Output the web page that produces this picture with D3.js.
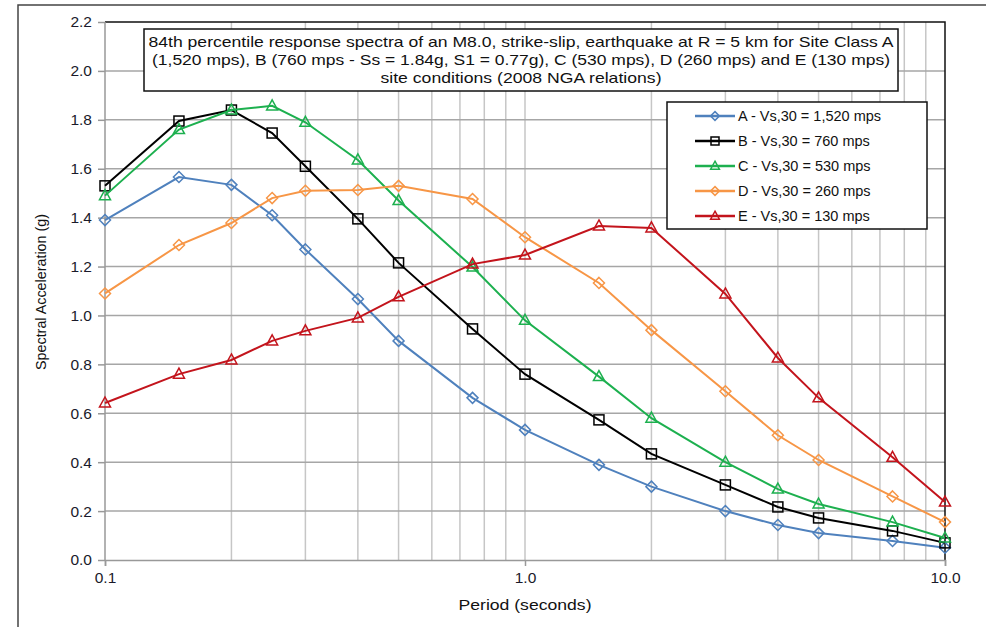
<!DOCTYPE html>
<html><head><meta charset="utf-8">
<script src="https://cdn.jsdelivr.net/npm/d3@7"></script>
<style>body{margin:0;background:#fff}svg{display:block}text{font-family:"Liberation Sans",Arial,sans-serif}</style>
</head><body>
<svg id="c" width="986" height="627"></svg>
<script>
const periods = [0.1,0.15,0.2,0.25,0.3,0.4,0.5,0.75,1.0,1.5,2,3,4,5,7.5,10];
const seriesA = [1.39,1.566,1.534,1.41,1.27,1.067,0.896,0.663,0.532,0.389,0.30,0.20,0.143,0.11,0.078,0.05];
const seriesB = [1.53,1.795,1.84,1.746,1.61,1.395,1.215,0.945,0.76,0.573,0.434,0.307,0.217,0.172,0.119,0.07];
const seriesC = [1.49,1.76,1.84,1.857,1.79,1.636,1.47,1.198,0.98,0.75,0.58,0.40,0.29,0.229,0.155,0.09];
const seriesD = [1.09,1.288,1.378,1.48,1.51,1.513,1.53,1.476,1.32,1.133,0.94,0.69,0.51,0.409,0.26,0.155];
const seriesE = [0.642,0.76,0.818,0.896,0.937,0.99,1.076,1.21,1.247,1.366,1.358,1.088,0.826,0.663,0.42,0.237];
const seriesNames = ["A - Vs,30 = 1,520 mps","B - Vs,30 = 760 mps","C - Vs,30 = 530 mps","D - Vs,30 = 260 mps","E - Vs,30 = 130 mps"];
const yTicks = [0,0.2,0.4,0.6,0.8,1.0,1.2,1.4,1.6,1.8,2.0,2.2];
const xTickLabels = [0.1,1,10];
const titleLines = ["84th percentile response spectra of an M8.0, strike-slip, earthquake at R = 5 km for Site Class A",
 "(1,520 mps), B (760 mps - Ss = 1.84g, S1 = 0.77g), C (530 mps), D (260 mps) and E (130 mps)",
 "site conditions (2008 NGA relations)"];
const xTitle = "Period (seconds)";
const yTitle = "Spectral Acceleration (g)";

const colors = ["#4f81bd","#000000","#1db04f","#f79646","#c3141c"];
const shapes = ["diamond","square","triangle","diamond","triangle"];
const allSeries = [seriesA,seriesB,seriesC,seriesD,seriesE];

const svg = d3.select("#c");
const L=105,R=945,T=22,B=560;
const x = d3.scaleLog().domain([0.1,10]).range([L,R]);
const y = d3.scaleLinear().domain([0,2.2]).range([B,T]);

// outer frame
svg.append("rect").attr("x",18).attr("y",5).attr("width",1000).attr("height",700)
  .attr("fill","none").attr("stroke","#444").attr("stroke-width",1.5);

// vertical grid (minor log)
const vgrid=[];
for(let d=1;d<10;d++){vgrid.push(d*0.1);vgrid.push(d);}
svg.append("g").selectAll("line").data(vgrid.filter(v=>v>0.1&&v<10)).join("line")
  .attr("x1",d=>x(d)).attr("x2",d=>x(d)).attr("y1",T).attr("y2",B)
  .attr("stroke","#c6c6c6").attr("stroke-width",1.5);
// horizontal grid
svg.append("g").selectAll("line").data(yTicks.filter(v=>v>0&&v<2.2)).join("line")
  .attr("x1",L).attr("x2",R).attr("y1",d=>y(d)).attr("y2",d=>y(d))
  .attr("stroke","#a6a6a6").attr("stroke-width",1.5);

// plot border top/right
svg.append("path").attr("d",`M${L},${y(2.2)}H${R}V${B}`).attr("fill","none").attr("stroke","#111").attr("stroke-width",1.5);

// axes
const yAxis = d3.axisLeft(y).tickValues(yTicks).tickFormat(d3.format(".1f")).tickSize(7).tickPadding(6);
const gy = svg.append("g").attr("transform",`translate(${L},0)`).call(yAxis);
const xAxis = d3.axisBottom(x).tickValues(xTickLabels).tickFormat(d3.format(".1f")).tickSize(6).tickPadding(6);
const gx = svg.append("g").attr("transform",`translate(0,${B})`).call(xAxis);
[gy,gx].forEach(g=>{
  g.select(".domain").attr("stroke","#999").attr("stroke-width",1.5);
  g.selectAll(".tick line").attr("stroke","#999").attr("stroke-width",1.5);
  g.selectAll(".tick text").attr("fill","#1a1a2a").attr("font-size",15.5).attr("font-family","Liberation Sans, Arial, sans-serif");
});
gy.select(".domain").attr("d",`M0,${B}V${T}`);

// axis titles
svg.append("text").attr("x",x(1)).attr("y",610).attr("text-anchor","middle")
  .attr("font-size",15).attr("fill","#111").attr("textLength",133).attr("lengthAdjust","spacingAndGlyphs").text(xTitle);
svg.append("text").attr("transform","translate(46,292) rotate(-90)").attr("text-anchor","middle")
  .attr("font-size",14).attr("fill","#111").attr("textLength",156).attr("lengthAdjust","spacingAndGlyphs").text(yTitle);

// markers
function marker(g,shape,color,cx,cy,s){
  s = s||1;
  if(shape==="diamond"){
    g.append("path").attr("d",`M${cx},${cy-5.5*s}L${cx+5.5*s},${cy}L${cx},${cy+5.5*s}L${cx-5.5*s},${cy}Z`)
      .attr("fill","none").attr("stroke",color).attr("stroke-width",1.5);
  } else if(shape==="square"){
    g.append("rect").attr("x",cx-5*s).attr("y",cy-5*s).attr("width",10*s).attr("height",10*s)
      .attr("fill","none").attr("stroke",color).attr("stroke-width",1.5);
  } else {
    g.append("path").attr("d",`M${cx},${cy-6*s}L${cx+5.5*s},${cy+4*s}L${cx-5.5*s},${cy+4*s}Z`)
      .attr("fill","none").attr("stroke",color).attr("stroke-width",1.5);
  }
}

const line = d3.line().x((d,i)=>x(periods[i])).y(d=>y(d));
allSeries.forEach((s,k)=>{
  const g = svg.append("g");
  g.append("path").attr("d",line(s)).attr("fill","none").attr("stroke",colors[k]).attr("stroke-width",2);
  s.forEach((v,i)=>marker(g,shapes[k],colors[k],x(periods[i]),y(v)));
});

// title box
svg.append("rect").attr("x",144).attr("y",29).attr("width",754).attr("height",62)
  .attr("fill","#fff").attr("stroke","#111").attr("stroke-width",1.5);
const tl=[745,738,281];
titleLines.forEach((t,i)=>{
  svg.append("text").attr("x",521).attr("y",47+i*18).attr("text-anchor","middle")
    .attr("font-size",15).attr("fill","#111").attr("textLength",tl[i]).attr("lengthAdjust","spacingAndGlyphs").text(t);
});

// legend
svg.append("rect").attr("x",667).attr("y",102).attr("width",260).attr("height",127)
  .attr("fill","#fff").attr("stroke","#111").attr("stroke-width",1.5);
seriesNames.forEach((n,k)=>{
  const yy = 116+k*25;
  const g=svg.append("g");
  g.append("line").attr("x1",695).attr("x2",735).attr("y1",yy).attr("y2",yy).attr("stroke",colors[k]).attr("stroke-width",2.5);
  marker(g,shapes[k],colors[k],715,yy,0.8);
  g.append("text").attr("x",738).attr("y",yy+5).attr("font-size",14.5).attr("fill","#111").text(n);
});
</script>
</body></html>
